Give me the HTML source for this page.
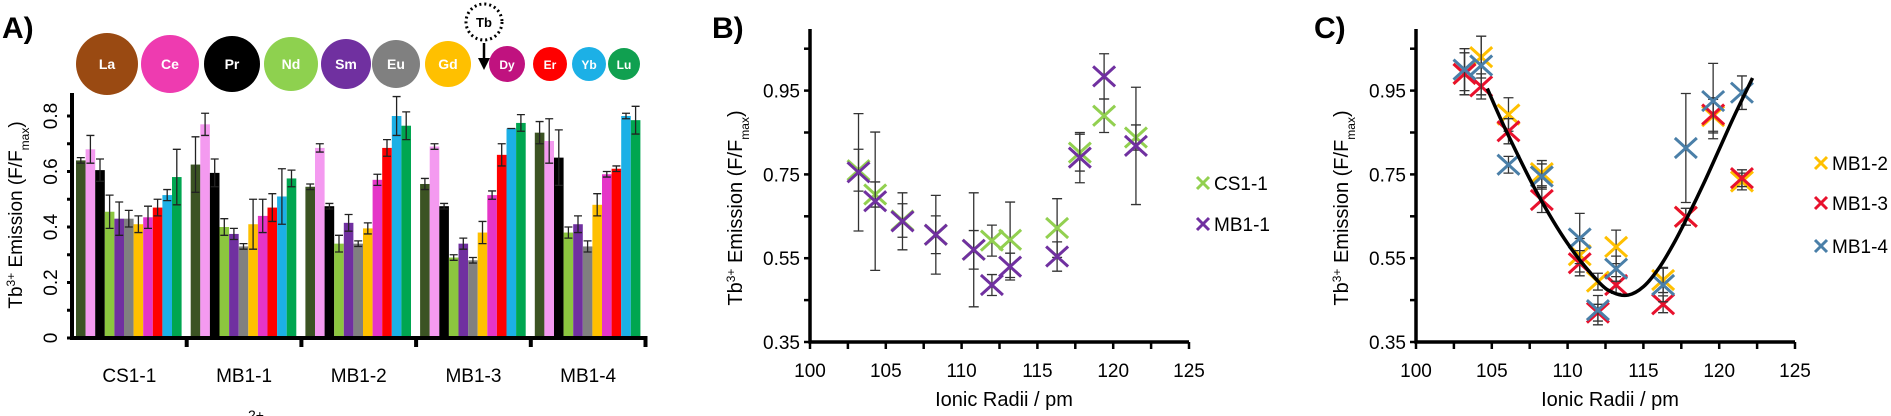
<!DOCTYPE html>
<html><head><meta charset="utf-8"><style>
html,body{margin:0;padding:0;background:#fff;}
svg{display:block;font-family:"Liberation Sans",sans-serif;}
</style></head><body>
<svg id="fig" width="1891" height="416" viewBox="0 0 1891 416">
<text x="2" y="38" font-size="30" font-weight="bold">A)</text>
<text x="712" y="38" font-size="30" font-weight="bold">B)</text>
<text x="1314" y="38" font-size="30" font-weight="bold">C)</text>
<g id="circles"></g>
<g id="pa"></g>
<g id="pb"></g>
<g id="pc"></g>
<text x="248" y="420" font-size="14">2+</text>
</svg>
<script>
// ---------- Panel A data ----------
const groups = ["CS1-1","MB1-1","MB1-2","MB1-3","MB1-4"];
const metals = ["La","Ce","Pr","Nd","Sm","Eu","Gd","Dy","Er","Yb","Lu"];
const aTicks = [0,0.2,0.4,0.6,0.8];
const valCS11 = [0.64,0.68,0.605,0.455,0.43,0.43,0.41,0.435,0.47,0.515,0.58];
const errCS11 = [0.01,0.05,0.04,0.06,0.06,0.03,0.03,0.04,0.03,0.02,0.1];
const valMB11 = [0.625,0.77,0.595,0.40,0.375,0.33,0.41,0.44,0.47,0.51,0.575];
const errMB11 = [0.1,0.04,0.05,0.03,0.02,0.01,0.09,0.06,0.05,0.1,0.03];
const valMB12 = [0.545,0.685,0.475,0.34,0.415,0.34,0.395,0.57,0.685,0.80,0.765];
const errMB12 = [0.01,0.015,0.01,0.03,0.03,0.01,0.02,0.02,0.03,0.07,0.05];
const valMB13 = [0.555,0.69,0.475,0.29,0.34,0.28,0.38,0.515,0.66,0.755,0.775];
const errMB13 = [0.02,0.01,0.01,0.01,0.02,0.01,0.04,0.015,0.04,0.0,0.03];
const valMB14 = [0.74,0.71,0.65,0.38,0.41,0.33,0.48,0.59,0.61,0.80,0.785];
const errMB14 = [0.04,0.08,0.1,0.02,0.03,0.02,0.04,0.01,0.01,0.01,0.05];

// ---------- Panel B data ----------
const radii = [103.2,104.3,106.1,108.3,110.8,112.0,113.2,116.3,117.8,119.4,121.5];
const valBCS = [0.76,0.702,0.64,0.606,0.57,0.592,0.594,0.622,0.802,0.89,0.838];
const errBCS = [0.05,0.03,0.04,0.045,0.046,0.037,0.09,0.07,0.044,0.04,0.03];
const valBMB = [0.755,0.686,0.638,0.606,0.57,0.486,0.53,0.554,0.79,0.984,0.818];
const errBMB = [0.14,0.165,0.068,0.094,0.136,0.025,0.032,0.035,0.06,0.054,0.14];
const xTicks = [100,105,110,115,120,125];
const yTicks = [0.35,0.55,0.75,0.95];

// ---------- Panel C data ----------
const radiiC = [103.2,104.3,106.1,108.3,110.8,112.0,113.2,116.3,117.8,119.6,121.5];
const valC2 = [0.99,1.03,0.893,0.753,0.557,0.494,0.577,0.498,0.649,0.889,0.733];
const errC2 = [0.05,0.05,0.04,0.03,0.04,0.02,0.04,0.03,0.02,0.04,0.02];
const valC3 = [0.99,0.96,0.853,0.689,0.538,0.42,0.486,0.44,0.649,0.893,0.741];
const errC3 = [0.05,0.03,0.03,0.03,0.03,0.02,0.02,0.02,0.02,0.04,0.02];
const valC4 = [1.0,1.01,0.773,0.745,0.597,0.426,0.525,0.486,0.813,0.925,0.945];
const errC4 = [0.05,0.07,0.02,0.03,0.06,0.035,0.03,0.04,0.13,0.09,0.04];
const fitX = [104.7,106,108,110,112,113,114,115,116,117,118,119,120,121,122.2];
const fitY = [0.955,0.85,0.705,0.585,0.495,0.468,0.462,0.482,0.525,0.585,0.655,0.73,0.81,0.89,0.98];

const NS="http://www.w3.org/2000/svg";
function mk(parent,tag,attrs){const e=document.createElementNS(NS,tag);for(const k in attrs)e.setAttribute(k,attrs[k]);parent.appendChild(e);return e;}

// lanthanide circles
const circG=document.getElementById('circles');
const circCols=["#9a4a12","#ee3bb0","#000000","#8ed14f","#7030a0","#808080","#ffc000","#c0127f","#ff0000","#1cb0e6","#10a050"];
const circX=[107,170,232,291,346,396,448,507,550,589,624];
const circR=[31,29,28,27,25,24,23,18,17,17,16];
metals.forEach((m,i)=>{
  const c=mk(circG,'circle',{cx:circX[i],cy:64,r:circR[i],fill:circCols[i]});
  
  
  const t=mk(circG,'text',{x:circX[i],y:69,'font-size':i<7?14:12,'font-weight':'bold',fill:'#fff','text-anchor':'middle'});
  t.textContent=m;
  
  
});
const tbc=mk(circG,'circle',{cx:484,cy:22,r:18,fill:'none',stroke:'#000','stroke-width':3,'stroke-dasharray':'2 3'});


const tbt=mk(circG,'text',{x:484,y:27,'font-size':13,'font-weight':'bold','text-anchor':'middle'});tbt.textContent='Tb';


mk(circG,'line',{x1:484,y1:43,x2:484,y2:60,stroke:'#000','stroke-width':2.5});
mk(circG,'path',{d:'M478 58 L490 58 L484 70 Z',fill:'#000'});

// ---------- Panel A ----------
const pa=document.getElementById('pa');
const barCols=["#3b5323","#f49af0","#000000","#8cc63f","#7030a0","#808080","#ffc000","#e535c8","#ff0000","#1cb0e6","#00a650"];
const aVals=[valCS11,valMB11,valMB12,valMB13,valMB14];
const aErrs=[errCS11,errMB11,errMB12,errMB13,errMB14];
const ay=v=>338-v*277.5;
const gx0=72, gw=114.7, bw=9.6;
aVals.forEach((vals,g)=>{
  vals.forEach((v,i)=>{
    const x=gx0+g*gw+4+i*bw;
    const r=mk(pa,'rect',{x:x,y:ay(v),width:bw,height:ay(0)-ay(v),fill:barCols[i]});
    
    
    const e=aErrs[g][i], cx=x+bw/2;
    mk(pa,'path',{d:`M${cx} ${ay(v+e)} V${ay(v-e)} M${cx-4} ${ay(v+e)} H${cx+4} M${cx-4} ${ay(v-e)} H${cx+4}`,stroke:'#222','stroke-width':1.3,fill:'none'});
  });
  const lt=mk(pa,'text',{x:gx0+g*gw+gw/2,y:382,'font-size':19,'text-anchor':'middle'});
  lt.textContent=groups[g];
  
  
  mk(pa,'line',{x1:gx0+(g+1)*gw,y1:336,x2:gx0+(g+1)*gw,y2:347,stroke:'#000','stroke-width':4});
});
mk(pa,'path',{d:`M${gx0} 93 V${ay(0)} H${gx0+5*gw}`,stroke:'#000','stroke-width':4,fill:'none'});
for(let v=0;v<=0.85;v+=0.1){mk(pa,'line',{x1:gx0-5,y1:ay(v),x2:gx0,y2:ay(v),stroke:'#000','stroke-width':3});}
aTicks.forEach(v=>{
  const t=mk(pa,'text',{x:0,y:0,'font-size':19,'text-anchor':'middle',transform:`translate(57 ${ay(v)}) rotate(-90)`});
  t.textContent=v===0?'0':v.toFixed(1);
  
  
});
const aYt=mk(pa,'text',{x:0,y:0,'font-size':19,'text-anchor':'middle',transform:'translate(22 215) rotate(-90)'});
aYt.innerHTML='Tb<tspan baseline-shift="super" font-size="12">3+</tspan> Emission (F/F<tspan baseline-shift="sub" font-size="12">max</tspan>)';



// ---------- Scatter helper ----------
function scatterPanel(g,x0,tag){
  const sx=v=>x0+(v-100)*15.16;
  const sy=v=>342-(v-0.35)*419;
  mk(g,'path',{d:`M${x0} 29 V342 H${sx(125)}`,stroke:'#000','stroke-width':3.5,fill:'none'});
  for(let v=0.35;v<=1.1;v+=0.1){mk(g,'line',{x1:x0-6,y1:sy(v),x2:x0,y2:sy(v),stroke:'#000','stroke-width':2.5});}
  for(let v=100;v<=125;v+=2.5){mk(g,'line',{x1:sx(v),y1:342,x2:sx(v),y2:349,stroke:'#000','stroke-width':2.5});}
  yTicks.forEach(v=>{const t=mk(g,'text',{x:x0-10,y:sy(v)+7,'font-size':19,'text-anchor':'end'});t.textContent=v.toFixed(2);
    
    });
  xTicks.forEach(v=>{const t=mk(g,'text',{x:sx(v),y:377,'font-size':19,'text-anchor':'middle'});t.textContent=v;
    
    });
  const xt=mk(g,'text',{x:x0+194,y:406,'font-size':20,'text-anchor':'middle'});xt.textContent='Ionic Radii / pm';
  
  
  const yt=mk(g,'text',{x:0,y:0,'font-size':20,'text-anchor':'middle',transform:`translate(${x0-68} 208) rotate(-90)`});
  yt.innerHTML='Tb<tspan baseline-shift="super" font-size="12">3+</tspan> Emission (F/F<tspan baseline-shift="sub" font-size="12">max</tspan>)';
  
  
  return {sx,sy};
}
function drawSeries(g,s,xs,vals,errs,col,name){
  xs.forEach((x,i)=>{
    const cx=s.sx(x),v=vals[i],e=errs[i];
    mk(g,'path',{d:`M${cx} ${s.sy(v+e)} V${s.sy(v-e)} M${cx-5} ${s.sy(v+e)} H${cx+5} M${cx-5} ${s.sy(v-e)} H${cx+5}`,stroke:'#333','stroke-width':1.3,fill:'none'});
  });
  xs.forEach((x,i)=>{
    const cx=s.sx(x),cy=s.sy(vals[i]);
    const m=mk(g,'path',{d:`M${cx-11} ${cy-10} L${cx+11} ${cy+10} M${cx-11} ${cy+10} L${cx+11} ${cy-10}`,stroke:col,'stroke-width':3,fill:'none'});
    
    
  });
}
function legendEntry(g,x,y,col,label){
  mk(g,'path',{d:`M${x-6} ${y-6} L${x+6} ${y+6} M${x-6} ${y+6} L${x+6} ${y-6}`,stroke:col,'stroke-width':3});
  const t=mk(g,'text',{x:x+11,y:y+7,'font-size':19});t.textContent=label;
  
  
}

// Panel B
const pb=document.getElementById('pb');
const sB=scatterPanel(pb,810,'b');
drawSeries(pb,sB,radii,valBCS,errBCS,'#92d050','cs1-1');
drawSeries(pb,sB,radii,valBMB,errBMB,'#7030a0','mb1-1');
legendEntry(pb,1203,183,'#92d050','CS1-1');
legendEntry(pb,1203,224,'#7030a0','MB1-1');

// Panel C
const pc=document.getElementById('pc');
const sC=scatterPanel(pc,1416,'c');
drawSeries(pc,sC,radiiC,valC2,errC2,'#ffc000','mb1-2');
drawSeries(pc,sC,radiiC,valC3,errC3,'#e8112d','mb1-3');
drawSeries(pc,sC,radiiC,valC4,errC4,'#4a7fa8','mb1-4');
// smooth Catmull-Rom fit curve
const fp=fitX.map((x,i)=>[sC.sx(x),sC.sy(fitY[i])]);
let fd='M'+fp[0][0]+' '+fp[0][1];
for(let i=0;i<fp.length-1;i++){
  const p0=fp[Math.max(0,i-1)],p1=fp[i],p2=fp[i+1],p3=fp[Math.min(fp.length-1,i+2)];
  const c1=[p1[0]+(p2[0]-p0[0])/6,p1[1]+(p2[1]-p0[1])/6];
  const c2=[p2[0]-(p3[0]-p1[0])/6,p2[1]-(p3[1]-p1[1])/6];
  fd+=` C${c1[0]} ${c1[1]} ${c2[0]} ${c2[1]} ${p2[0]} ${p2[1]}`;
}
const fit=mk(pc,'path',{d:fd,stroke:'#000','stroke-width':3.5,fill:'none','stroke-linejoin':'round'});


legendEntry(pc,1821,163,'#ffc000','MB1-2');
legendEntry(pc,1821,203,'#e8112d','MB1-3');
legendEntry(pc,1821,246,'#4a7fa8','MB1-4');
</script>
</body></html>
